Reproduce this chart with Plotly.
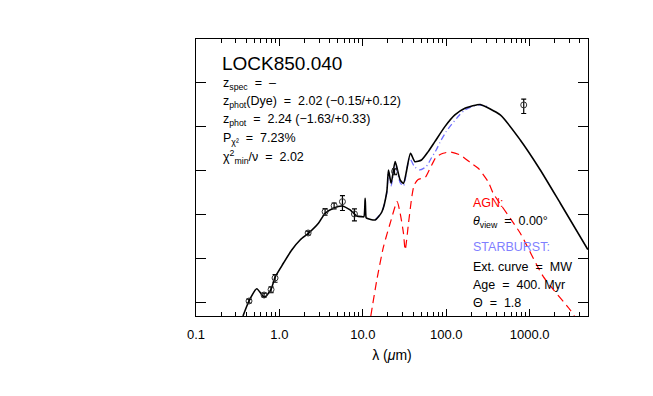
import plotly.graph_objects as go

# Total model (black), wavelength in micron, log10(nu L_nu)
tot_wl = [0.366, 0.432, 0.535, 0.661, 0.794, 0.887, 1.116, 1.406, 1.770, 2.228, 2.938,
          3.532, 4.446, 5.597, 7.047, 8.47, 9.72, 10.3, 10.67, 10.95, 11.17, 14.06, 16.90,
          19.41, 20.32, 21.88, 24.43, 28.05, 30.74, 37.3, 42.1, 50.6, 60.8, 73.1, 96.4,
          127.0, 167.5, 231.0, 255.9, 444.6, 772.6, 1343.0, 2334.0, 4990.0]
tot_lf = [8.70, 9.04, 9.319, 9.124, 9.305, 9.578, 9.895, 10.197, 10.423, 10.575, 10.802,
          11.029, 11.142, 11.194, 11.104, 10.968, 10.952, 10.95, 11.369, 10.93, 10.915, 10.877, 11.058,
          11.519, 12.011, 11.709, 12.199, 11.784, 11.709, 12.389, 12.199, 12.237, 12.426, 12.652, 12.993,
          13.258, 13.410, 13.485, 13.496, 13.258, 12.691, 12.011, 11.256, 10.208]

# Starburst component (blue dash-dot), where it separates from the total
sb_wl = [14.06, 16.90, 19.41, 20.32, 21.88, 24.43, 28.05, 30.74, 36.3, 41.7, 47.9, 57.5,
         66.1, 75.9, 87.1, 100.0, 114.8, 144.5, 167.5, 201.4, 242.0, 337.0]
sb_lf = [10.877, 11.058, 11.49, 11.966, 11.65, 12.15, 11.72, 11.65, 12.28, 12.086, 12.011, 12.086,
         12.276, 12.464, 12.691, 12.879, 13.031, 13.258, 13.371, 13.446, 13.485, 13.44]

# AGN component (red dashed)
agn_wl = [12.47, 14.72, 17.70, 21.28, 25.8, 28.05, 30.74, 32.2, 35.3, 38.7, 41.3, 46.1, 56.0,
          64.3, 75.9, 92.0, 111.7, 147.2, 199.5, 242.0, 319.0, 366.0, 773.0, 1459.0, 3076.0, 3436.0]
agn_lf = [8.70, 9.516, 10.271, 10.802, 11.292, 11.029, 10.575, 10.197, 10.802, 11.405, 11.671, 11.795, 11.841,
          12.056, 12.306, 12.389, 12.419, 12.351, 12.163, 12.049, 11.739, 11.482, 10.575, 9.591, 8.836, 8.70]

# Photometry
obs_wl = [0.432, 0.655, 0.794, 0.887, 2.21, 3.53, 4.53, 5.70, 7.94, 24.0, 850.0]
obs_lf = [9.04, 9.176, 9.30, 9.562, 10.582, 11.065, 11.201, 11.292, 11.013, 11.977, 13.485]
obs_err = [0.10, 0.10, 0.15, 0.20, 0.10, 0.17, 0.15, 0.37, 0.30, 0.15, 0.36]  # fractional

x_ticks = [0.1, 1.0, 10.0, 100.0, 1000.0]
x_labels = ['0.1', '1.0', '10.0', '100.0', '1000.0']
y_ticks = [1e9, 1e10, 1e11, 1e12, 1e13, 1e14]

info_lines = ['z<sub>spec</sub>\u00a0 = \u00a0\u2013',
              'z<sub>phot</sub>(Dye)\u00a0 = \u00a02.02 (\u22120.15/+0.12)',
              'z<sub>phot</sub>\u00a0 = \u00a02.24 (\u22121.63/+0.33)',
              'P<sub>\u03c7\u00b2</sub>\u00a0 = \u00a07.23%',
              '\u03c7<sup>2</sup><sub>min</sub>/\u03bd\u00a0 = \u00a02.02']
right_lines = [('AGN:', '#ff0000'),
               ('<i>\u03b8</i><sub>view</sub>\u00a0 = \u00a00.00\u00b0', 'black'),
               ('STARBURST:', '#7f7fff'),
               ('Ext. curve\u00a0 = \u00a0MW', 'black'),
               ('Age\u00a0 = \u00a0400. Myr', 'black'),
               ('\u0398\u00a0 = \u00a01.8', 'black')]

ytot = [10 ** v for v in tot_lf]
ysb = [10 ** v for v in sb_lf]
yagn = [10 ** v for v in agn_lf]
yobs = [10 ** v for v in obs_lf]

fig = go.Figure()
fig.add_trace(go.Scatter(x=sb_wl, y=ysb, mode='lines',
                         line=dict(color='#6f6fff', width=1.3, dash='6px,3px,1px,3px',
                                   shape='spline', smoothing=0.6)))
fig.add_trace(go.Scatter(x=agn_wl, y=yagn, mode='lines',
                         line=dict(color='#ff0000', width=1.2, dash='8px,5px', shape='spline', smoothing=0.6)))
fig.add_trace(go.Scatter(x=tot_wl, y=ytot, mode='lines',
                         line=dict(color='black', width=1.6, shape='spline', smoothing=0.6)))
fig.add_trace(go.Scatter(x=obs_wl, y=yobs, mode='markers',
                         marker=dict(symbol='circle-open', size=6, color='#333333', line=dict(width=1)),
                         error_y=dict(type='data', array=[e * y for e, y in zip(obs_err, yobs)],
                                      symmetric=True, color='black', thickness=1.2, width=2.5)))

ann = [dict(text='LOCK850.040', x=0.062, y=0.91, xref='paper', yref='paper', xanchor='left',
            yanchor='middle', showarrow=False, font=dict(size=19, color='black'))]
for i, t in enumerate(info_lines):
    ann.append(dict(text=t, x=0.0638, y=0.838 - i * 0.066, xref='paper', yref='paper',
                    xanchor='left', yanchor='middle', showarrow=False,
                    font=dict(size=12.5, color='black')))
right_y = [0.408, 0.340, 0.248, 0.178, 0.112, 0.048]
for (t, c), yy in zip(right_lines, right_y):
    ann.append(dict(text=t, x=0.7015, y=yy, xref='paper', yref='paper',
                    xanchor='left', yanchor='middle', showarrow=False,
                    font=dict(size=12.5, color=c)))

minor_vals = [m * 10 ** d for d in range(-1, 4) for m in range(2, 10)]

# the page body adds an 8px offset, so the figure is a bit smaller than the window
fig.update_layout(
    width=645, height=388,
    margin=dict(l=188, r=65, t=31, b=80),
    paper_bgcolor='white', plot_bgcolor='white',
    showlegend=False,
    font=dict(family='Liberation Sans, Arial, sans-serif', color='black'),
    annotations=ann,
    xaxis=dict(type='log', range=[-1, 3.70], tickvals=x_ticks, ticktext=x_labels,
               ticks='inside', ticklen=7, tickwidth=1, tickcolor='black',
               minor=dict(tickvals=minor_vals, ticks='inside', ticklen=4, tickcolor='black'),
               showgrid=False, zeroline=False, showline=True, linecolor='black', linewidth=1,
               mirror='allticks', tickfont=dict(size=13), ticklabelstandoff=6,
               title=dict(text='\u03bb (<i>\u03bc</i>m)', font=dict(size=14), standoff=9)),
    yaxis=dict(type='log', range=[8.70, 14.98], tickvals=y_ticks, showticklabels=False,
               ticks='inside', ticklen=10, tickwidth=1, tickcolor='black',
               showgrid=False, zeroline=False, showline=True, linecolor='black', linewidth=1,
               mirror='allticks'),
)

fig.write_html('out.html')
